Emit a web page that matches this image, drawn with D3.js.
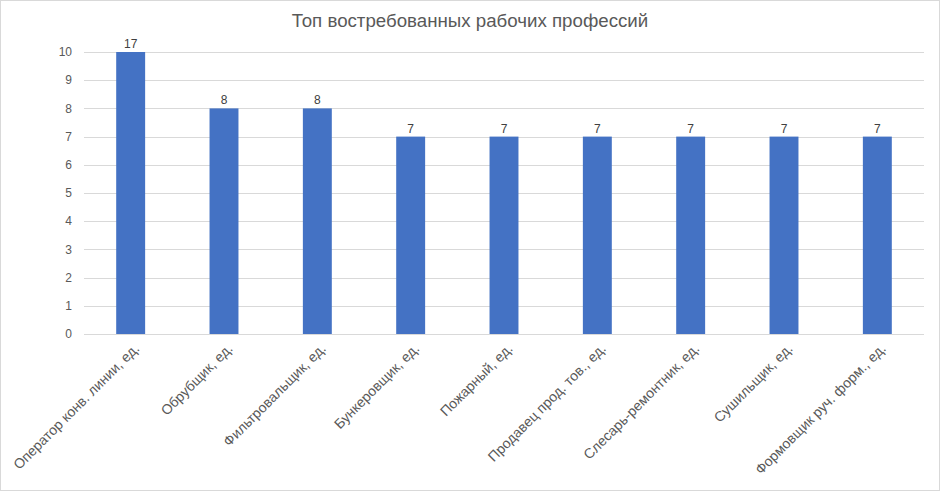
<!DOCTYPE html>
<html>
<head>
<meta charset="utf-8">
<script src="https://cdn.jsdelivr.net/npm/d3@7"></script>
<style>
  html, body { margin: 0; padding: 0; background: #fff; }
  body { font-family: "Liberation Sans", Arial, sans-serif; }
</style>
</head>
<body>
<div id="chart"></div>
<script>
// data
const title = "Топ востребованных рабочих профессий";
const categories = [
    "Оператор конв. линии, ед.",
    "Обрубщик, ед.",
    "Фильтровальщик, ед.",
    "Бункеровщик, ед.",
    "Пожарный, ед.",
    "Продавец прод. тов., ед.",
    "Слесарь-ремонтник, ед.",
    "Сушильщик, ед.",
    "Формовщик руч. форм., ед."
];
const values = [17, 8, 8, 7, 7, 7, 7, 7, 7];
const yTicks = [0, 1, 2, 3, 4, 5, 6, 7, 8, 9, 10];
const yMax = 10;

const W = 940, H = 491;
const m = { top: 52, right: 16, bottom: 157, left: 84 };
const w = W - m.left - m.right;
const h = H - m.top - m.bottom;

const root = d3.select("#chart").append("svg")
    .attr("width", W).attr("height", H);

// outer frame
root.append("rect")
    .attr("x", 0.5).attr("y", 0.5)
    .attr("width", W - 1).attr("height", H - 1)
    .attr("fill", "#fff").attr("stroke", "#d9d9d9");

root.append("text")
    .attr("x", W / 2).attr("y", 27)
    .attr("text-anchor", "middle")
    .attr("font-size", 18.7).attr("fill", "#595959")
    .text(title);

const svg = root.append("g").attr("transform", `translate(${m.left},${m.top})`);

const x = d3.scaleBand().domain(categories).range([0, w]).padding(0);
const y = d3.scaleLinear().domain([0, yMax]).range([h, 0]);
const barW = x.bandwidth() * 0.31;

// gridlines
svg.append("g")
    .selectAll("line").data(yTicks).enter().append("line")
    .attr("x1", 0).attr("x2", w)
    .attr("y1", d => Math.round(y(d)) + 0.5).attr("y2", d => Math.round(y(d)) + 0.5)
    .attr("stroke", "#d9d9d9").attr("stroke-width", 1);

// y labels
svg.append("g")
    .selectAll("text").data(yTicks).enter().append("text")
    .attr("x", -12).attr("y", d => y(d))
    .attr("dy", "0.35em")
    .attr("text-anchor", "end")
    .attr("font-size", 12).attr("fill", "#595959")
    .text(d => d);

// bars (clipped at the axis maximum)
svg.selectAll(".bar")
    .data(categories).enter().append("rect")
    .attr("class", "bar")
    .attr("x", d => x(d) + (x.bandwidth() - barW) / 2)
    .attr("width", barW)
    .attr("y", (d, i) => y(Math.min(values[i], yMax)))
    .attr("height", (d, i) => h - y(Math.min(values[i], yMax)))
    .attr("fill", "#4472c4");

// value labels
svg.selectAll(".lbl")
    .data(categories).enter().append("text")
    .attr("x", d => x(d) + x.bandwidth() / 2)
    .attr("y", (d, i) => y(Math.min(values[i], yMax)) - 4)
    .attr("text-anchor", "middle")
    .attr("font-size", 12).attr("fill", "#404040")
    .text((d, i) => values[i]);

// category labels, rotated
svg.selectAll(".cat")
    .data(categories).enter().append("text")
    .attr("transform", d => `translate(${x(d) + x.bandwidth() / 2 + 6},${h + 12}) rotate(-45)`)
    .attr("text-anchor", "end")
    .attr("dy", "0.35em")
    .attr("font-size", 14).attr("fill", "#595959")
    .text(d => d);
</script>
</body>
</html>
